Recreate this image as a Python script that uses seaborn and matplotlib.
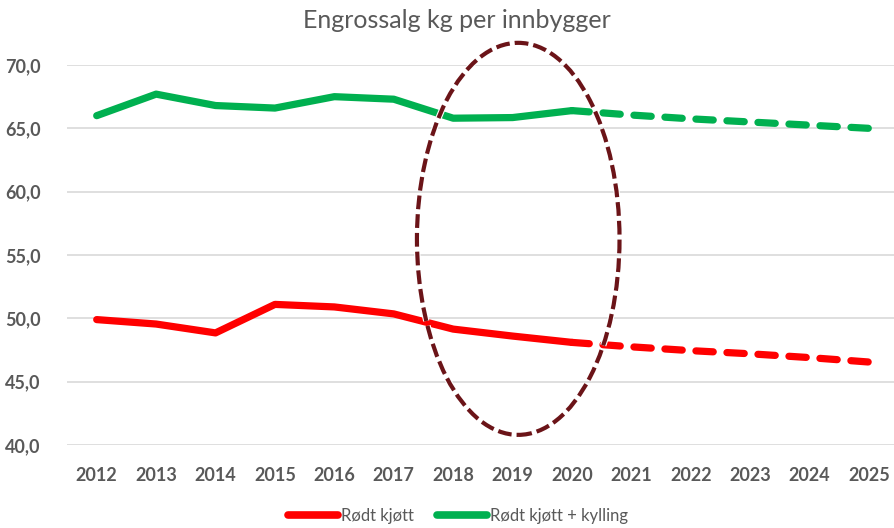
import matplotlib
matplotlib.use("Agg")
import matplotlib.pyplot as plt
import matplotlib.patheffects as pe
from matplotlib.patches import Ellipse
from matplotlib.lines import Line2D
import pandas as pd
import seaborn as sns

# data
years = list(range(2012, 2026))
rodt = [49.9, 49.55, 48.85, 51.1, 50.9, 50.35, 49.15, 48.6, 48.1,
        47.75, 47.45, 47.2, 46.9, 46.55]
rodt_kylling = [66.0, 67.7, 66.8, 66.6, 67.5, 67.3, 65.8, 65.85, 66.4,
                66.05, 65.75, 65.5, 65.25, 65.0]
last_actual = 2020
series_names = ["Rødt kjøtt", "Rødt kjøtt + kylling"]
colors = {"Rødt kjøtt": "#FF0000", "Rødt kjøtt + kylling": "#00B050"}
yticks = [40, 45, 50, 55, 60, 65, 70]
# highlighted period (ellipse), in data units
hl_years = (2017.39, 2020.8)
hl_values = (40.8, 71.75)

rows = []
for name, vals in zip(series_names, [rodt, rodt_kylling]):
    for yr, v in zip(years, vals):
        if yr <= last_actual:
            rows.append((name, "faktisk", yr, v))
        if yr >= last_actual:
            rows.append((name, "prognose", yr, v))
df = pd.DataFrame(rows, columns=["serie", "fase", "aar", "kg"])

sns.set_theme(style="white")
plt.rcParams['font.family'] = ['Lato', 'DejaVu Sans']
grey = "#595959"

fig = plt.figure(figsize=(8.94, 5.28), dpi=100)
ax = fig.add_axes([67 / 894, 83 / 528, 827 / 894, 380 / 528])

sns.lineplot(data=df, x="aar", y="kg", hue="serie", style="fase",
             palette=colors, dashes={"faktisk": "", "prognose": (2.4, 1.9)},
             linewidth=5.2, solid_capstyle="round", dash_capstyle="round",
             legend=False, ax=ax, zorder=3)

ax.set_xlim(2011.5, 2025.42)
ax.set_ylim(40, 70)
ax.set_xticks(years)
ax.set_xticklabels([str(y) for y in years])
ax.set_yticks(yticks)
ax.set_yticklabels([f"{v:.1f}".replace(".", ",") for v in yticks])
ax.tick_params(axis="both", length=0, labelsize=13, labelcolor=grey)
ax.tick_params(axis="y", pad=19)
ax.tick_params(axis="x", pad=16)
for lab in ax.get_xticklabels() + ax.get_yticklabels():
    lab.set_fontweight("bold")
ax.grid(axis="y", color="#D9D9D9", linewidth=1.2)
ax.set_axisbelow(True)
for s in ax.spines.values():
    s.set_visible(False)
ax.set_xlabel("")
ax.set_ylabel("")

ell = Ellipse(((hl_years[0] + hl_years[1]) / 2, (hl_values[0] + hl_values[1]) / 2),
              hl_years[1] - hl_years[0], hl_values[1] - hl_values[0],
              fill=False, edgecolor="#6B1418", linewidth=3.0, linestyle=(0, (3.3, 1.2)),
              clip_on=False, zorder=4)
ell.set_path_effects([pe.Stroke(linewidth=4.6, foreground="white"), pe.Normal()])
ax.add_patch(ell)

fig.text(457 / 894, 1 - 21 / 528, "Engrossalg kg per innbygger", ha="center",
         va="center", fontsize=18, color=grey)

handles = [Line2D([], [], color=colors[n], linewidth=5.5, solid_capstyle="round")
           for n in series_names]
fig.legend(handles, series_names, loc="center", bbox_to_anchor=(458 / 894, 1 - 516 / 528),
           ncol=2, frameon=False, fontsize=12, labelcolor=grey, handlelength=3.0,
           handletextpad=0.2, columnspacing=1.4)

fig.savefig("out.png", dpi=100)
